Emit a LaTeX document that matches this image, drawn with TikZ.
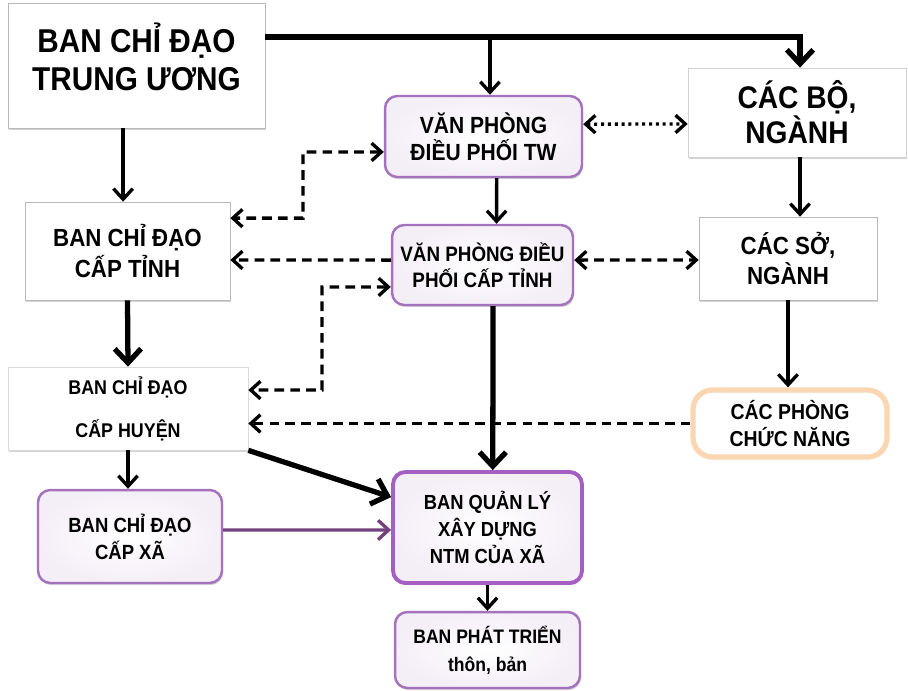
\documentclass[tikz,border=0pt]{standalone}
\usepackage{fontspec}
\newfontfamily\vnfont{Liberation Sans}[FakeStretch=0.9]
\usetikzlibrary{positioning, shapes.geometric, arrows.meta, shadows}
\definecolor{purpborder}{RGB}{165,115,190}
\definecolor{bqlborder}{RGB}{165,95,195}
\definecolor{purpline}{RGB}{115,65,125}
\definecolor{peach}{RGB}{250,214,178}

\begin{document}
\begin{tikzpicture}[x=0.02cm, y=-0.02cm,
  box/.style={draw=gray!55, fill=white, align=center, inner sep=2pt,
    drop shadow={shadow xshift=0.6pt, shadow yshift=-1.2pt, opacity=0.35}},
  rbox/.style={box, draw=purpborder, line width=1.4pt, rounded corners=7pt,
    inner color=white, outer color=purpborder!12},
  arr/.style={line width=1.9pt, -{Straight Barb[length=6pt,width=11pt]}},
  bigarr/.style={line width=3pt, -{Straight Barb[length=8pt,width=15pt]}},
  dasharr/.style={line width=1.9pt, dash pattern=on 5.5pt off 3.5pt, -{Straight Barb[length=5.5pt,width=10pt]}},
  dotarr/.style={line width=1.9pt, dash pattern=on 1.7pt off 2.2pt, {Straight Barb[length=5.5pt,width=10pt]}-{Straight Barb[length=5.5pt,width=10pt]}}]
\useasboundingbox (0,0) rectangle (908,690);

% trung uong
\node[box, minimum width=5.14cm, minimum height=2.5cm, text depth=10pt, font=\vnfont\bfseries\fontsize{18.8}{21.5}\selectfont]
  (tw) at (136.5,65.5) {BAN CHỈ ĐẠO\\TRUNG ƯƠNG};
\node[rbox, minimum width=3.94cm, minimum height=1.62cm, font=\vnfont\bfseries\fontsize{13.3}{15.3}\selectfont]
  (vptw) at (483.5,136.5) {VĂN PHÒNG\\ĐIỀU PHỐI TW};
\node[box, draw=gray!35, minimum width=4.36cm, minimum height=1.78cm, font=\vnfont\bfseries\fontsize{17.8}{17}\selectfont]
  (bo) at (797,112.5) {CÁC BỘ,\\NGÀNH};

% cap tinh
\node[box, minimum width=4.1cm, minimum height=1.96cm, font=\vnfont\bfseries\fontsize{14.1}{18}\selectfont]
  (tinh) at (127.5,251) {BAN CHỈ ĐẠO\\CẤP TỈNH};
\node[rbox, minimum width=3.62cm, minimum height=1.6cm, font=\vnfont\bfseries\fontsize{11.9}{14.7}\selectfont]
  (vptinh) at (482.5,265) {VĂN PHÒNG ĐIỀU\\PHỐI CẤP TỈNH};
\node[box, minimum width=3.56cm, minimum height=1.66cm, font=\vnfont\bfseries\fontsize{14.1}{17}\selectfont]
  (so) at (788,258.5) {CÁC SỞ,\\NGÀNH};

% cap huyen
\node[box, draw=gray!30, minimum width=4.8cm, minimum height=1.66cm, font=\vnfont\bfseries\fontsize{11.3}{24.4}\selectfont]
  (huyen) at (128,408.5) {BAN CHỈ ĐẠO\\CẤP HUYỆN};
\node[box, draw=peach, line width=3pt, rounded corners=11pt, minimum width=3.88cm, minimum height=1.34cm,
  font=\vnfont\bfseries\fontsize{12.3}{15.9}\selectfont]
  (phong) at (790,423.5) {CÁC PHÒNG\\CHỨC NĂNG};

% cap xa
\node[rbox, minimum width=3.68cm, minimum height=1.86cm, font=\vnfont\bfseries\fontsize{11.7}{15.3}\selectfont]
  (xa) at (130,536.5) {BAN CHỈ ĐẠO\\CẤP XÃ};
\node[rbox, draw=bqlborder, line width=2.2pt, minimum width=3.78cm, minimum height=2.22cm,
  font=\vnfont\bfseries\fontsize{11.6}{15.3}\selectfont]
  (bql) at (487.5,527.5) {BAN QUẢN LÝ\\XÂY DỰNG\\NTM CỦA XÃ};
\node[rbox, minimum width=3.7cm, minimum height=1.52cm, font=\vnfont\bfseries\fontsize{11.1}{16}\selectfont]
  (bpt) at (487.5,650) {BAN PHÁT TRIỂN\\thôn, bản};

\coordinate (j1) at (490,37);
\coordinate (j2) at (800,37);
\coordinate (e1) at (303,152);
\coordinate (e2) at (322,287);

% duong chi dao
\draw[bigarr] (tw.east |- j1) -- (j2) -- (j2 |- bo.north);
\draw[arr] (j1) -- (j1 |- vptw.north);
\draw[arr] ([xshift=-2.5pt]tinh.north |- tw.south) -- ([xshift=-2.5pt]tinh.north);
\draw[arr] ([xshift=7.5pt]vptw.south) -- ([xshift=8pt]vptinh.north);
\draw[arr] (bo.south -| j2) -- (j2 |- so.north);
\draw[arr] (so.south) -- (so.south |- phong.north);
\draw[bigarr] (tinh.south) -- (huyen.north);
\draw[bigarr] ([xshift=6pt]vptinh.south) -- ([xshift=3pt]bql.north);
\draw[arr] (huyen.south) -- (huyen.south |- xa.north);
\draw[bigarr] (huyen.south east) -- ([yshift=17.3pt]bql.west);
\draw[arr, color=purpline] ([yshift=3.7pt]xa.east) -- ([yshift=-1.4pt]bql.west);
\draw[arr] (bql.south) -- (bpt.north);

% phoi hop
\draw[dotarr] ([yshift=7pt]vptw.east) -- ([yshift=-6.5pt]bo.west);
\draw[dasharr, {Straight Barb[length=5.5pt,width=10pt]}-{Straight Barb[length=5.5pt,width=10pt]}]
  ([yshift=2.8pt]vptinh.east) -- ([yshift=-0.85pt]so.west);
\draw[dasharr] ([yshift=2.8pt]vptinh.west) -- ([yshift=-5.1pt]tinh.east);
\draw[dasharr, {Straight Barb[length=5.5pt,width=10pt]}-{Straight Barb[length=5.5pt,width=10pt]}]
  ([yshift=-8.8pt]vptw.west) -- (e1) |- ([yshift=18.7pt]tinh.east);
\draw[dasharr, {Straight Barb[length=5.5pt,width=10pt]}-{Straight Barb[length=5.5pt,width=10pt]}]
  ([yshift=-12.5pt]vptinh.west) -- (e2) |- ([yshift=10.5pt]huyen.east);
\draw[dasharr] (phong.west) -- (phong.west -| huyen.east);
\end{tikzpicture}
\end{document}
